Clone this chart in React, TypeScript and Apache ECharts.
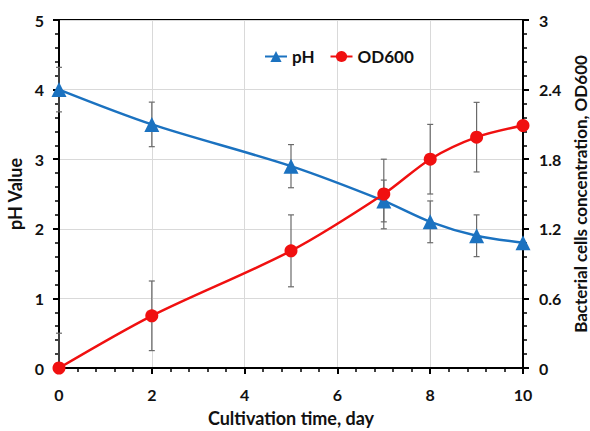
import React, { useEffect, useRef } from "react";
import * as echarts from "echarts";

const days = [0, 2, 5, 7, 8, 9, 10];
const phValues = [4.0, 3.5, 2.9, 2.4, 2.1, 1.9, 1.8];
const phErrors = [0.32, 0.32, 0.31, 0.3, 0.3, 0.3, 0];
const odValues = [0.0, 0.45, 1.01, 1.5, 1.8, 1.99, 2.09];
const odErrors = [0.3, 0.3, 0.31, 0.3, 0.3, 0.3, 0];
const phTicks = [0, 1, 2, 3, 4, 5];
const odTicks = [0, 0.6, 1.2, 1.8, 2.4, 3];

const FONT = "Lato";
const BLUE = "#1b72c0";
const RED = "#f01010";

function errorBarSeries(values: number[], errors: number[], yAxisIndex: number, yMin: number, yMax: number) {
  const data = days
    .map((d, i) => [d, values[i] - errors[i], values[i] + errors[i], errors[i]])
    .filter((r) => r[3] > 0);
  return {
    type: "custom",
    yAxisIndex,
    z: 1,
    silent: true,
    data,
    renderItem: (params: any, api: any) => {
      const x = api.value(0);
      const loV = api.value(1);
      const hiV = api.value(2);
      const lo = api.coord([x, Math.max(loV, yMin)]);
      const hi = api.coord([x, Math.min(hiV, yMax)]);
      const cap = 3;
      const style = { stroke: "#6a6a6a", lineWidth: 1.2 };
      const children: any[] = [
        { type: "line", shape: { x1: lo[0], y1: lo[1], x2: hi[0], y2: hi[1] }, style },
      ];
      if (loV >= yMin)
        children.push({ type: "line", shape: { x1: lo[0] - cap, y1: lo[1], x2: lo[0] + cap, y2: lo[1] }, style });
      if (hiV <= yMax)
        children.push({ type: "line", shape: { x1: hi[0] - cap, y1: hi[1], x2: hi[0] + cap, y2: hi[1] }, style });
      return { type: "group", children };
    },
  };
}

export default function App() {
  const ref = useRef<HTMLDivElement>(null);
  useEffect(() => {
    const chart = echarts.init(ref.current!, undefined, { renderer: "svg" });
    const axisLabel = { fontFamily: FONT, fontWeight: "bold", fontSize: 16, color: "#111" };
    const nameStyle = { fontFamily: FONT, fontWeight: "bold", fontSize: 18, color: "#111" };
    chart.setOption({
      animation: false,
      backgroundColor: "#fff",
      grid: {
        left: 59,
        right: 67,
        top: 20,
        bottom: 63,
        show: true,
        borderColor: "#000",
        borderWidth: 2,
        containLabel: false,
        outerBoundsMode: "none",
      },
      legend: {
        top: 43,
        left: 259,
        itemGap: 15,
        itemWidth: 22,
        itemHeight: 14,
        textStyle: { fontFamily: FONT, fontWeight: "bold", fontSize: 17, color: "#111" },
        data: ["pH", "OD600"],
      },
      xAxis: {
        type: "value",
        min: 0,
        max: 10,
        interval: 2,
        name: "Cultivation time, day",
        nameLocation: "middle",
        nameGap: 41,
        nameTextStyle: nameStyle,
        axisLine: { lineStyle: { color: "#000", width: 2 } },
        axisTick: { length: 6, lineStyle: { color: "#000", width: 2 } },
        minorTick: { show: true, splitNumber: 5, length: 4, lineStyle: { color: "#000", width: 1.5 } },
        splitLine: { show: true, lineStyle: { color: "#d9d9d9", width: 1 } },
        axisLabel: { ...axisLabel, margin: 18 },
      },
      yAxis: [
        {
          type: "value",
          min: 0,
          max: 5,
          interval: 1,
          name: "pH Value",
          nameLocation: "middle",
          nameGap: 31,
          nameTextStyle: nameStyle,
          axisLine: { show: true, lineStyle: { color: "#000", width: 2 } },
          axisTick: { show: true, length: 6, lineStyle: { color: "#000", width: 2 } },
          minorTick: { show: true, splitNumber: 5, length: 4, lineStyle: { color: "#000", width: 1.5 } },
          splitLine: { show: true, lineStyle: { color: "#d9d9d9", width: 1 } },
          axisLabel: {
            ...axisLabel,
            margin: 15,
            formatter: (v: number) => (phTicks.includes(v) ? String(v) : ""),
          },
        },
        {
          type: "value",
          min: 0,
          max: 3,
          interval: 0.6,
          position: "right",
          name: "Bacterial cells concentration, OD600",
          nameLocation: "middle",
          nameGap: 45,
          nameRotate: 90,
          nameTextStyle: { ...nameStyle, fontSize: 17 },
          axisLine: { show: true, lineStyle: { color: "#000", width: 2 } },
          axisTick: { show: true, length: 6, lineStyle: { color: "#000", width: 2 } },
          minorTick: { show: true, splitNumber: 5, length: 4, lineStyle: { color: "#000", width: 1.5 } },
          splitLine: { show: false },
          axisLabel: {
            ...axisLabel,
            margin: 16,
            formatter: (v: number) => {
              const t = odTicks.find((o) => Math.abs(o - v) < 1e-6);
              return t === undefined ? "" : String(t);
            },
          },
        },
      ],
      series: [
        errorBarSeries(phValues, phErrors, 0, 0, 5),
        errorBarSeries(odValues, odErrors, 1, 0, 3),
        {
          name: "pH",
          type: "line",
          yAxisIndex: 0,
          z: 3,
          smooth: 0.3,
          data: days.map((d, i) => [d, phValues[i]]),
          symbol: "triangle",
          symbolSize: 15,
          lineStyle: { color: BLUE, width: 2.5 },
          itemStyle: { color: BLUE },
        },
        {
          name: "OD600",
          type: "line",
          yAxisIndex: 1,
          z: 3,
          smooth: 0.3,
          data: days.map((d, i) => [d, odValues[i]]),
          symbol: "circle",
          symbolSize: 13,
          lineStyle: { color: RED, width: 2.5 },
          itemStyle: { color: RED },
        },
      ],
    });
    return () => chart.dispose();
  }, []);
  return (
    <div
      ref={ref}
      style={{ position: "absolute", left: 0, top: 0, width: 590, height: 431 }}
    />
  );
}
